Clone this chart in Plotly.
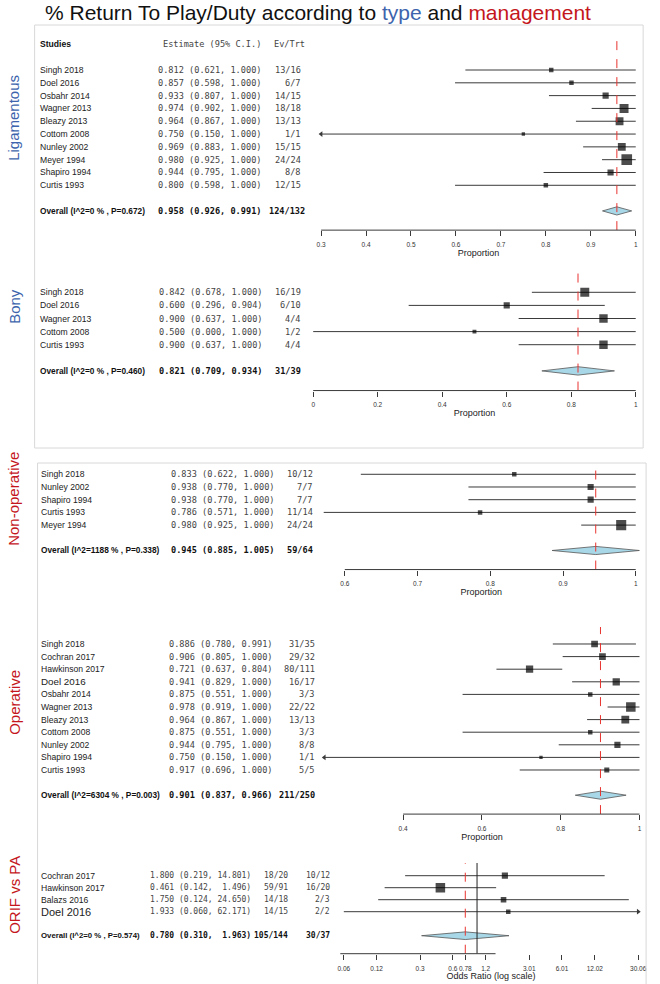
import math
import plotly.graph_objects as go

W, H = 660, 984

# ---------- data ----------
lig_study = ["Singh 2018", "Doel 2016", "Osbahr 2014", "Wagner 2013", "Bleazy 2013",
             "Cottom 2008", "Nunley 2002", "Meyer 1994", "Shapiro 1994", "Curtis 1993"]
lig_est = [0.812, 0.857, 0.933, 0.974, 0.964, 0.750, 0.969, 0.980, 0.944, 0.800]
lig_lo = [0.621, 0.598, 0.807, 0.902, 0.867, 0.150, 0.883, 0.925, 0.795, 0.598]
lig_hi = [1.000, 1.000, 1.000, 1.000, 1.000, 1.000, 1.000, 1.000, 1.000, 1.000]
lig_ev = ["13/16", "6/7", "14/15", "18/18", "13/13", "1/1", "15/15", "24/24", "8/8", "12/15"]
lig_wt = [4, 4, 5.5, 8, 7, 3, 7, 9.5, 5.5, 4]
lig_pool = [0.958, 0.926, 0.991]
lig_pool_lab = "Overall (I^2=0 % , P=0.672)"
lig_pool_ev = ["124/132"]
lig_ticks = [0.3, 0.4, 0.5, 0.6, 0.7, 0.8, 0.9, 1.0]
lig_ticklab = ["0.3", "0.4", "0.5", "0.6", "0.7", "0.8", "0.9", "1"]

bony_study = ["Singh 2018", "Doel 2016", "Wagner 2013", "Cottom 2008", "Curtis 1993"]
bony_est = [0.842, 0.600, 0.900, 0.500, 0.900]
bony_lo = [0.678, 0.296, 0.637, 0.000, 0.637]
bony_hi = [1.000, 0.904, 1.000, 1.000, 1.000]
bony_ev = ["16/19", "6/10", "4/4", "1/2", "4/4"]
bony_wt = [8, 5.5, 7.5, 3.5, 7.5]
bony_pool = [0.821, 0.709, 0.934]
bony_pool_lab = "Overall (I^2=0 % , P=0.460)"
bony_pool_ev = ["31/39"]
bony_ticks = [0, 0.2, 0.4, 0.6, 0.8, 1.0]
bony_ticklab = ["0", "0.2", "0.4", "0.6", "0.8", "1"]

nonop_study = ["Singh 2018", "Nunley 2002", "Shapiro 1994", "Curtis 1993", "Meyer 1994"]
nonop_est = [0.833, 0.938, 0.938, 0.786, 0.980]
nonop_lo = [0.622, 0.770, 0.770, 0.571, 0.925]
nonop_hi = [1.000, 1.000, 1.000, 1.000, 1.000]
nonop_ev = ["10/12", "7/7", "7/7", "11/14", "24/24"]
nonop_wt = [4, 5.5, 5.5, 4, 9]
nonop_pool = [0.945, 0.885, 1.005]
nonop_pool_lab = "Overall (I^2=1188 % , P=0.338)"
nonop_pool_ev = ["59/64"]
nonop_ticks = [0.6, 0.7, 0.8, 0.9, 1.0]
nonop_ticklab = ["0.6", "0.7", "0.8", "0.9", "1"]

oper_study = ["Singh 2018", "Cochran 2017", "Hawkinson 2017", "Doel 2016", "Osbahr 2014",
              "Wagner 2013", "Bleazy 2013", "Cottom 2008", "Nunley 2002", "Shapiro 1994",
              "Curtis 1993"]
oper_est = [0.886, 0.906, 0.721, 0.941, 0.875, 0.978, 0.964, 0.875, 0.944, 0.750, 0.917]
oper_lo = [0.780, 0.805, 0.637, 0.829, 0.551, 0.919, 0.867, 0.551, 0.795, 0.150, 0.696]
oper_hi = [0.991, 1.000, 0.804, 1.000, 1.000, 1.000, 1.000, 1.000, 1.000, 1.000, 1.000]
oper_ev = ["31/35", "29/32", "80/111", "16/17", "3/3", "22/22", "13/13", "3/3", "8/8",
           "1/1", "5/5"]
oper_wt = [6, 6, 6.5, 6.5, 4, 8.5, 7, 4, 5.5, 3, 4.5]
oper_pool = [0.901, 0.837, 0.966]
oper_pool_lab = "Overall (I^2=6304 % , P=0.003)"
oper_pool_ev = ["211/250"]
oper_ticks = [0.4, 0.6, 0.8, 1.0]
oper_ticklab = ["0.4", "0.6", "0.8", "1"]

orif_study = ["Cochran 2017", "Hawkinson 2017", "Balazs 2016", "Doel 2016"]
orif_est = [1.800, 0.461, 1.750, 1.933]
orif_lo = [0.219, 0.142, 0.124, 0.060]
orif_hi = [14.801, 1.496, 24.650, 62.171]
orif_ev_orif = ["18/20", "59/91", "14/18", "14/15"]
orif_ev_pa = ["10/12", "16/20", "2/3", "2/2"]
orif_wt = [5.5, 8.5, 5, 4]
orif_pool = [0.780, 0.310, 1.963]
orif_pool_lab = "Overall (I^2=0 % , P=0.574)"
orif_pool_ev = ["105/144", "30/37"]
orif_ticks = [0.06, 0.12, 0.3, 0.6, 0.78, 1.2, 3.01, 6.01, 12.02, 30.06]
orif_ticklab = ["0.06", "0.12", "0.3", "0.6", "0.78", "1.2", "3.01", "6.01", "12.02", "30.06"]

# ---------- style ----------
BLUE = "#3d64ad"
RED = "#c4161c"
LINE = "#3a3a3a"
SANS = "Liberation Sans, Arial, sans-serif"
MONO = "DejaVu Sans Mono, monospace"

panels = [
    dict(study=lig_study, est=lig_est, lo=lig_lo, hi=lig_hi, ev=[lig_ev], wt=lig_wt,
         pool=lig_pool, pool_lab=lig_pool_lab, pool_ev=lig_pool_ev, pool_ev_dx=4,
         ticks=lig_ticks, ticklab=lig_ticklab, log=False, tick_px=(322, 640.5),
         alim=(0.3, 1.0), row0=70, step=12.81, top_row=-2.34,
         name_x=35, est_r=263, ev_r=[304], mono=8.6, pool_fs=8.3, header=True,
         xlab="Proportion", label="Ligamentous", color=BLUE, label_y=118, big={}),
    dict(study=bony_study, est=bony_est, lo=bony_lo, hi=bony_hi, ev=[bony_ev], wt=bony_wt,
         pool=bony_pool, pool_lab=bony_pool_lab, pool_ev=bony_pool_ev, pool_ev_dx=0,
         ticks=bony_ticks, ticklab=bony_ticklab, log=False, tick_px=(314, 640.5),
         alim=(0.0, 1.0), row0=292.3, step=13.1, top_row=-1.57,
         name_x=35, est_r=264, ev_r=[304], mono=8.6, pool_fs=8.3, header=False,
         xlab="Proportion", label="Bony", color=BLUE, label_y=306, big={}),
    dict(study=nonop_study, est=nonop_est, lo=nonop_lo, hi=nonop_hi, ev=[nonop_ev],
         wt=nonop_wt, pool=nonop_pool, pool_lab=nonop_pool_lab, pool_ev=nonop_pool_ev,
         pool_ev_dx=0, ticks=nonop_ticks, ticklab=nonop_ticklab, log=False,
         tick_px=(346, 640.5), alim=(0.565, 1.01), row0=474.3, step=12.7, top_row=-0.75,
         name_x=36, est_r=276, ev_r=[316], mono=8.6, pool_fs=8.3, header=False,
         xlab="Proportion", label="Non-operative", color=RED, label_y=499, big={}),
    dict(study=oper_study, est=oper_est, lo=oper_lo, hi=oper_hi, ev=[oper_ev], wt=oper_wt,
         pool=oper_pool, pool_lab=oper_pool_lab, pool_ev=oper_pool_ev, pool_ev_dx=0,
         ticks=oper_ticks, ticklab=oper_ticklab, log=False, tick_px=(405, 644.3),
         alim=(0.2, 1.0), row0=644, step=12.6, top_row=-1.35,
         name_x=36, est_r=274, ev_r=[318], mono=8.6, pool_fs=8.3, header=False,
         xlab="Proportion", label="Operative", color=RED, label_y=702, big={3: 9.8}),
    dict(study=orif_study, est=orif_est, lo=orif_lo, hi=orif_hi,
         ev=[orif_ev_orif, orif_ev_pa], wt=orif_wt,
         pool=orif_pool, pool_lab=orif_pool_lab, pool_ev=orif_pool_ev, pool_ev_dx=0,
         ticks=orif_ticks, ticklab=orif_ticklab, log=True, tick_px=(345, 643),
         alim=(0.06, 30.06), row0=875.7, step=12.0, top_row=-1.06,
         name_x=36, est_r=253, ev_r=[291, 333], mono=8.0, pool_fs=7.8, header=False,
         xlab="Odds Ratio (log scale)", label="ORIF vs PA", color=RED, label_y=895,
         big={3: 11}),
]


def fmt_ci(e, lo, hi, width):
    hs = f"{hi:.3f}".rjust(width)
    s = f"{e:.3f} ({lo:.3f}, {hs})"
    return s.replace(" ", "\u00a0")


fig = go.Figure()
annotations = []
shapes = []
layout_axes = {}

for i, p in enumerate(panels, start=1):
    xa = "x" if i == 1 else f"x{i}"
    ya = "y" if i == 1 else f"y{i}"
    n = len(p["study"])
    rows = list(range(n))
    pool_row = n + 1
    axis_row = n + 2.5

    tr = (lambda v: math.log10(v)) if p["log"] else (lambda v: v)
    t0, t1 = tr(p["ticks"][0]), tr(p["ticks"][-1])
    a_px, b_px = p["tick_px"]

    def px(v, t0=t0, t1=t1, a_px=a_px, b_px=b_px):
        return a_px + (v - t0) / (t1 - t0) * (b_px - a_px)

    pad = 0.012 * (t1 - t0)
    r0, r1 = tr(p["alim"][0]) - pad, tr(p["alim"][1]) + pad
    axis_px = p["row0"] + axis_row * p["step"]
    top_px = p["row0"] + p["top_row"] * p["step"]

    layout_axes["xaxis" if i == 1 else f"xaxis{i}"] = dict(
        domain=[px(r0) / W, px(r1) / W], range=[r0, r1],
        type="log" if p["log"] else "linear", anchor=ya,
        tickvals=p["ticks"], ticktext=p["ticklab"], tickangle=0,
        ticks="outside", ticklen=5, tickwidth=1, tickcolor=LINE, ticklabelstandoff=3,
        showline=False, showgrid=False, zeroline=False,
        tickfont=dict(family=SANS, size=6.5, color="#333"),
        title=dict(text=p["xlab"], font=dict(family=SANS, size=9, color="#222"), standoff=2),
    )
    layout_axes["yaxis" if i == 1 else f"yaxis{i}"] = dict(
        domain=[1 - axis_px / H, 1 - top_px / H], range=[axis_row, p["top_row"]],
        visible=False, anchor=xa,
    )

    # axis line between first and last tick
    shapes.append(dict(type="line", xref=xa, yref=f"{ya} domain",
                       x0=t0, x1=t1, y0=0, y1=0, line=dict(color=LINE, width=1)))

    lo_b, hi_b = p["alim"]
    # confidence intervals
    cx, cy = [], []
    left_arrow, right_arrow = [], []
    for r, lo, hi in zip(rows, p["lo"], p["hi"]):
        cx += [max(lo, lo_b), min(hi, hi_b), None]
        cy += [r, r, None]
        if lo < lo_b:
            left_arrow.append(r)
        if hi > hi_b:
            right_arrow.append(r)
    fig.add_trace(go.Scatter(x=cx, y=cy, mode="lines", xaxis=xa, yaxis=ya,
                             line=dict(color=LINE, width=1), hoverinfo="skip"))
    if left_arrow:
        fig.add_trace(go.Scatter(x=[lo_b] * len(left_arrow), y=left_arrow, mode="markers",
                                 xaxis=xa, yaxis=ya, cliponaxis=False,
                                 marker=dict(symbol="triangle-left", size=5, color=LINE)))
    if right_arrow:
        fig.add_trace(go.Scatter(x=[hi_b] * len(right_arrow), y=right_arrow, mode="markers",
                                 xaxis=xa, yaxis=ya, cliponaxis=False,
                                 marker=dict(symbol="triangle-right", size=5, color=LINE)))

    # study squares
    fig.add_trace(go.Scatter(x=p["est"], y=rows, mode="markers", xaxis=xa, yaxis=ya,
                             marker=dict(symbol="square", color="black",
                                         size=[w * 1.12 for w in p["wt"]], line_width=0)))

    # pooled diamond
    pe, pl, ph = p["pool"]
    hh = 0.32
    fig.add_trace(go.Scatter(x=[pl, pe, ph, pe, pl], y=[pool_row, pool_row - hh, pool_row,
                                                        pool_row + hh, pool_row],
                             mode="lines", fill="toself", fillcolor="#a8d8e8",
                             xaxis=xa, yaxis=ya, line=dict(color="#555", width=0.8)))

    # pooled estimate (red dashed) and null line
    fig.add_trace(go.Scatter(x=[pe, pe], y=[axis_row, p["top_row"]], mode="lines",
                             xaxis=xa, yaxis=ya,
                             line=dict(color="#e8332e", width=1, dash="dash")))
    if p["log"]:
        fig.add_trace(go.Scatter(x=[1, 1], y=[axis_row, p["top_row"]], mode="lines",
                                 xaxis=xa, yaxis=ya, line=dict(color="#222", width=1)))

    # text columns
    ms = p["mono"]
    width = max(len(f"{v:.3f}") for v in p["hi"] + [ph])
    for r, name, e, lo, hi in zip(rows, p["study"], p["est"], p["lo"], p["hi"]):
        annotations.append(dict(x=p["name_x"] / W, y=r, xref="paper", yref=ya, text=name,
                                showarrow=False, xanchor="left", yanchor="middle",
                                font=dict(family=SANS, size=p["big"].get(r, 8.6),
                                          color="#222")))
        annotations.append(dict(x=p["est_r"] / W, y=r, xref="paper", yref=ya,
                                text=fmt_ci(e, lo, hi, width), showarrow=False,
                                xanchor="right", yanchor="middle",
                                font=dict(family=MONO, size=ms, color="#444")))
        for col, xr in zip(p["ev"], p["ev_r"]):
            annotations.append(dict(x=xr / W, y=r, xref="paper", yref=ya, text=col[r],
                                    showarrow=False, xanchor="right", yanchor="middle",
                                    font=dict(family=MONO, size=ms, color="#444")))
    annotations.append(dict(x=p["name_x"] / W, y=pool_row, xref="paper", yref=ya,
                            text=f"<b>{p['pool_lab']}</b>", showarrow=False, xanchor="left",
                            yanchor="middle",
                            font=dict(family=SANS, size=p["pool_fs"], color="#111")))
    annotations.append(dict(x=p["est_r"] / W, y=pool_row, xref="paper", yref=ya,
                            text=f"<b>{fmt_ci(pe, pl, ph, width)}</b>", showarrow=False,
                            xanchor="right", yanchor="middle",
                            font=dict(family=MONO, size=ms, color="#111")))
    for txt, xr in zip(p["pool_ev"], p["ev_r"]):
        annotations.append(dict(x=(xr + p["pool_ev_dx"]) / W, y=pool_row, xref="paper",
                                yref=ya, text=f"<b>{txt}</b>", showarrow=False,
                                xanchor="right", yanchor="middle",
                                font=dict(family=MONO, size=ms, color="#111")))
    if p["header"]:
        annotations.append(dict(x=p["name_x"] / W, y=-2, xref="paper", yref=ya,
                                text="<b>Studies</b>", showarrow=False, xanchor="left",
                                yanchor="middle", font=dict(family=SANS, size=8.6, color="#111")))
        annotations.append(dict(x=p["est_r"] / W, y=-2, xref="paper", yref=ya,
                                text="Estimate\u00a0(95%\u00a0C.I.)", showarrow=False,
                                xanchor="right", yanchor="middle",
                                font=dict(family=MONO, size=ms, color="#444")))
        annotations.append(dict(x=(p["ev_r"][0] + 4) / W, y=-2, xref="paper", yref=ya,
                                text="Ev/Trt", showarrow=False, xanchor="right",
                                yanchor="middle", font=dict(family=MONO, size=ms, color="#444")))

    # panel label
    annotations.append(dict(x=11 / W, y=1 - p["label_y"] / H, xref="paper", yref="paper",
                            text=p["label"], textangle=-90, showarrow=False,
                            xanchor="center", yanchor="middle",
                            font=dict(family=SANS, size=15, color=p["color"])))

# panel frames
shapes.append(dict(type="rect", xref="paper", yref="paper", x0=32 / W, x1=648 / W,
                   y0=1 - 448 / H, y1=1 - 25 / H, line=dict(color="#d8d8d8", width=1)))
shapes.append(dict(type="rect", xref="paper", yref="paper", x0=35 / W, x1=651 / W,
                   y0=-0.01, y1=1 - 463 / H, line=dict(color="#d8d8d8", width=1)))

# title
annotations.append(dict(
    x=319 / W, y=1 - 12 / H, xref="paper", yref="paper", showarrow=False,
    xanchor="center", yanchor="middle",
    text=(f"% Return To Play/Duty according to <span style='color:{BLUE}'>type</span> and "
          f"<span style='color:{RED}'>management</span>"),
    font=dict(family=SANS, size=21, color="#111")))

fig.update_layout(
    width=W, height=H, margin=dict(l=0, r=0, t=0, b=0),
    paper_bgcolor="white", plot_bgcolor="rgba(0,0,0,0)",
    showlegend=False, annotations=annotations, shapes=shapes, **layout_axes,
)

fig.write_html("out.html", config={"displayModeBar": False},
               post_script="document.body.style.margin='0px';")
